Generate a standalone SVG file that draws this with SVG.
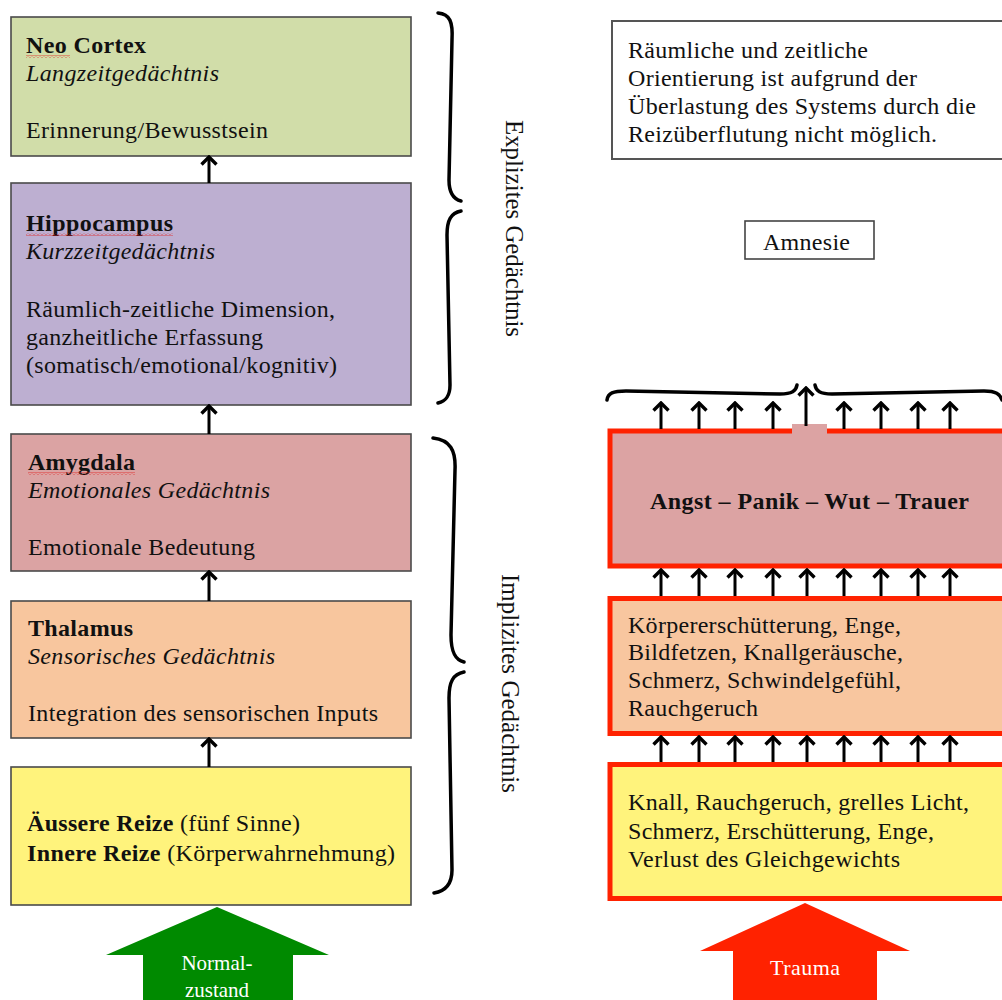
<svg xmlns="http://www.w3.org/2000/svg" width="1002" height="1000" viewBox="0 0 1002 1000">
<style>
text{font-family:"Liberation Serif","Times New Roman",serif;font-size:24px;fill:#111}
.b{font-weight:bold}
.i{font-style:italic}
.lb{stroke:#4a4a4a;stroke-width:1.6}
.rb{stroke:#ff2200;stroke-width:5}
.ar{fill:none;stroke:#000;stroke-width:3;stroke-linecap:butt}
.br{fill:none;stroke:#000;stroke-width:3.5;stroke-linecap:round}
.w{fill:#fff;font-size:21px}
.v{font-size:26px}
</style>
<defs>
<pattern id="wave" width="4" height="3" patternUnits="userSpaceOnUse"><path d="M0,2.5 L2,0.5 L4,2.5" fill="none" stroke="#e02020" stroke-width="0.8"/></pattern>
<marker id="ah" markerWidth="11" markerHeight="19" refX="9" refY="9.5" orient="auto" markerUnits="userSpaceOnUse" viewBox="0 0 11 19"><path d="M1.5,2 L9,9.5 L1.5,17" fill="none" stroke="#000" stroke-width="3.4" stroke-linejoin="miter"/></marker>
</defs>
<rect width="1002" height="1000" fill="#fff"/>

<g id="neocortex">
<rect class="lb" x="11" y="17" width="400" height="139" fill="#d1dda9"/>
<text x="26" y="53" class="b" textLength="120">Neo Cortex</text>
<rect x="26" y="55" width="44" height="3" fill="url(#wave)"/>
<text x="26" y="81" class="i" textLength="193">Langzeitgedächtnis</text>
<text x="26" y="138" textLength="242">Erinnerung/Bewusstsein</text>
</g>
<g id="hippocampus">
<rect class="lb" x="11" y="183" width="400" height="222" fill="#bdafd1"/>
<text x="26" y="231" class="b" textLength="147">Hippocampus</text>
<rect x="26" y="233" width="147" height="3" fill="url(#wave)"/>
<text x="26" y="259" class="i" textLength="189">Kurzzeitgedächtnis</text>
<text x="26" y="317" textLength="309">Räumlich-zeitliche Dimension,</text>
<text x="26" y="345" textLength="237">ganzheitliche Erfassung</text>
<text x="26" y="373" textLength="311">(somatisch/emotional/kognitiv)</text>
</g>
<g id="amygdala">
<rect class="lb" x="11" y="434" width="400" height="137" fill="#dba3a3"/>
<text x="28" y="470" class="b" textLength="107">Amygdala</text>
<rect x="28" y="472" width="107" height="3" fill="url(#wave)"/>
<text x="28" y="498" class="i" textLength="242">Emotionales Gedächtnis</text>
<text x="28" y="555" textLength="227">Emotionale Bedeutung</text>
</g>
<g id="thalamus">
<rect class="lb" x="11" y="601" width="400" height="137" fill="#f8c69e"/>
<text x="28" y="636" class="b" textLength="105">Thalamus</text>
<text x="28" y="664" class="i" textLength="247">Sensorisches Gedächtnis</text>
<text x="28" y="721" textLength="350">Integration des sensorischen Inputs</text>
</g>
<g id="reize">
<rect class="lb" x="11" y="767" width="400" height="138" fill="#fff37c"/>
<text x="27" y="831" textLength="273"><tspan class="b">Äussere Reize</tspan> (fünf Sinne)</text>
<text x="27" y="861" textLength="368"><tspan class="b">Innere Reize</tspan> (Körperwahrnehmung)</text>
</g>
<g id="normalzustand">
<polygon points="217,907 329,955 293,955 293,1000 143,1000 143,955 106,955" fill="#008a00"/>
<text class="w" x="217" y="970" text-anchor="middle">Normal-</text>
<text class="w" x="217" y="997" text-anchor="middle">zustand</text>
</g>

<g id="explizit">
<path class="br" d="M438,13 C450,14 453,22 452,40 L449,180 C449,193 453,199 461,201"/>
<path class="br" d="M461,211 C451,213 447,220 447,235 L450,385 C450,396 446,401 438,403"/>
<text class="v" transform="translate(506,120) rotate(90)" textLength="217" lengthAdjust="spacingAndGlyphs">Explizites Gedächtnis</text>
</g>
<g id="implizit">
<path class="br" d="M433,438 C450,440 456,450 455,470 L451,635 C451,652 455,660 464,662"/>
<path class="br" d="M464,672 C453,674 449,682 449,698 L452,870 C452,884 446,891 434,893"/>
<text class="v" transform="translate(502,574) rotate(90)" textLength="219" lengthAdjust="spacingAndGlyphs">Implizites Gedächtnis</text>
</g>

<g id="orientierung">
<rect x="612" y="21" width="400" height="138" fill="#fff" stroke="#555" stroke-width="2"/>
<text x="628" y="58" textLength="240">Räumliche und zeitliche</text>
<text x="628" y="86" textLength="289">Orientierung ist aufgrund der</text>
<text x="628" y="114" textLength="348">Überlastung des Systems durch die</text>
<text x="628" y="142" textLength="309">Reizüberflutung nicht möglich.</text>
</g>
<g id="amnesie">
<rect x="745" y="221" width="129" height="38" fill="#fff" stroke="#444" stroke-width="1.6"/>
<text x="763" y="250" textLength="87">Amnesie</text>
</g>
<g id="klammer">
<path class="br" d="M607,400 C608,393 613,391 626,391 L780,394 C792,394 796,391 797,385"/>
<path class="br" d="M815,385 C816,391 820,394 832,394 L984,391 C996,391 1000,394 1002,400"/>
</g>

<g id="angst">
<rect class="rb" x="610" y="431" width="400" height="135" fill="#dca3a3"/>
<rect x="792" y="424" width="35" height="10" fill="#dca3a3"/>
<text x="650" y="509" class="b" textLength="319">Angst – Panik – Wut – Trauer</text>
</g>
<g id="koerper">
<rect class="rb" x="610" y="598.5" width="400" height="135" fill="#f8c69f"/>
<text x="628" y="633" textLength="273">Körpererschütterung, Enge,</text>
<text x="628" y="660" textLength="275">Bildfetzen, Knallgeräusche,</text>
<text x="628" y="688" textLength="273">Schmerz, Schwindelgefühl,</text>
<text x="628" y="716" textLength="130">Rauchgeruch</text>
</g>
<g id="knall">
<rect class="rb" x="610" y="764.5" width="400" height="134" fill="#fff37c"/>
<text x="628" y="810" textLength="341">Knall, Rauchgeruch, grelles Licht,</text>
<text x="628" y="839" textLength="306">Schmerz, Erschütterung, Enge,</text>
<text x="628" y="867" textLength="272">Verlust des Gleichgewichts</text>
</g>
<g id="trauma">
<polygon points="805,903 910,951 877,951 877,1000 733,1000 733,951 700,951" fill="#ff2200"/>
<text class="w" x="805" y="975" text-anchor="middle" textLength="70" style="font-size:22px">Trauma</text>
</g>

<g id="connectors">
<path class="ar" marker-end="url(#ah)" d="M209,183 V157"/>
<path class="ar" marker-end="url(#ah)" d="M209,434 V406"/>
<path class="ar" marker-end="url(#ah)" d="M209,601 V572"/>
<path class="ar" marker-end="url(#ah)" d="M209,767 V739"/>

<path class="ar" marker-end="url(#ah)" d="M661,429 V403"/>
<path class="ar" marker-end="url(#ah)" d="M699,429 V403"/>
<path class="ar" marker-end="url(#ah)" d="M735,429 V403"/>
<path class="ar" marker-end="url(#ah)" d="M773,429 V403"/>
<path class="ar" marker-end="url(#ah)" d="M806,426 V388"/>
<path class="ar" marker-end="url(#ah)" d="M844,429 V403"/>
<path class="ar" marker-end="url(#ah)" d="M881,429 V403"/>
<path class="ar" marker-end="url(#ah)" d="M918,429 V403"/>
<path class="ar" marker-end="url(#ah)" d="M950,429 V403"/>

<path class="ar" marker-end="url(#ah)" d="M661,596 V570"/>
<path class="ar" marker-end="url(#ah)" d="M699,596 V570"/>
<path class="ar" marker-end="url(#ah)" d="M735,596 V570"/>
<path class="ar" marker-end="url(#ah)" d="M773,596 V570"/>
<path class="ar" marker-end="url(#ah)" d="M807,596 V570"/>
<path class="ar" marker-end="url(#ah)" d="M844,596 V570"/>
<path class="ar" marker-end="url(#ah)" d="M881,596 V570"/>
<path class="ar" marker-end="url(#ah)" d="M918,596 V570"/>
<path class="ar" marker-end="url(#ah)" d="M950,596 V570"/>

<path class="ar" marker-end="url(#ah)" d="M661,762 V737"/>
<path class="ar" marker-end="url(#ah)" d="M699,762 V737"/>
<path class="ar" marker-end="url(#ah)" d="M735,762 V737"/>
<path class="ar" marker-end="url(#ah)" d="M773,762 V737"/>
<path class="ar" marker-end="url(#ah)" d="M807,762 V737"/>
<path class="ar" marker-end="url(#ah)" d="M844,762 V737"/>
<path class="ar" marker-end="url(#ah)" d="M881,762 V737"/>
<path class="ar" marker-end="url(#ah)" d="M918,762 V737"/>
<path class="ar" marker-end="url(#ah)" d="M950,762 V737"/>
</g>
</svg>
